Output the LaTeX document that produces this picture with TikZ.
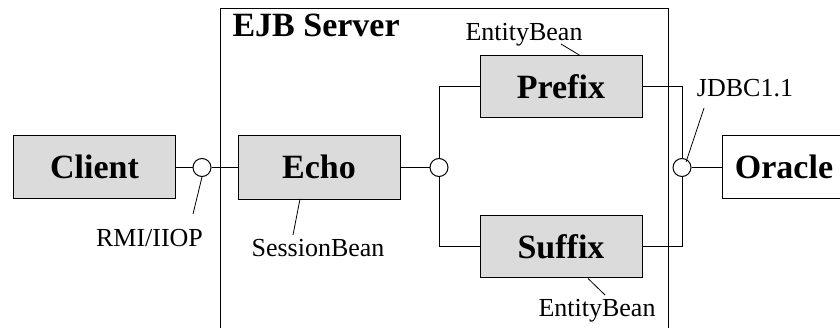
\documentclass[tikz,border=0pt]{standalone}
\usepackage{fontspec}
\setmainfont{Liberation Serif}
\begin{document}
\begin{tikzpicture}[x=1pt,y=-1pt,line width=1pt,
  comp/.style={draw, fill=black!14, minimum width=162pt, inner sep=0pt,
    font=\fontsize{34}{40}\selectfont\bfseries, text height=23pt, text depth=0pt},
  iface/.style={draw, fill=white, circle, minimum size=18pt, inner sep=0pt},
  lbl/.style={font=\fontsize{26}{30}\selectfont, inner sep=0pt, anchor=base},
  lead/.style={line width=0.8pt}]
\useasboundingbox (0,0) rectangle (840,328);
% server container
\draw (220,9) rectangle (668,340);
\node[anchor=base west, inner sep=0pt, font=\fontsize{34}{40}\selectfont\bfseries] (srv) at (232,37) {EJB Server};
% components
\node[comp, minimum height=63pt] (client) at (94.5,167.5) {Client};
\node[comp, minimum height=64pt] (echo) at (319,167.5) {Echo};
\node[comp, minimum height=62pt] (prefix) at (561,87) {Prefix};
\node[comp, minimum height=62pt] (suffix) at (561,247) {Suffix};
\node[comp, fill=white, minimum width=124pt, minimum height=63pt] (oracle) at (784,167.5) {Oracle};
% interfaces
\node[iface] (c1) at (202,167.5) {};
\node[iface] (c2) at (439,167.5) {};
\node[iface] (c3) at (682,167.5) {};
% connectors
\draw (client.east) -- (c1);
\draw (c1) -- (echo.west);
\draw (echo.east) -- (c2);
\draw (c2.north) |- (prefix.west);
\draw (c2.south) |- (suffix.west);
\draw (prefix.east) -| (c3.north);
\draw (suffix.east) -| (c3.south);
\draw (c3) -- (oracle.west);
% labels
\node[lbl] (eb1) at (524,41) {EntityBean};
\node[lbl] (eb2) at (597,317) {EntityBean};
\node[lbl] (jdbc) at (745,97) {JDBC1.1};
\node[lbl] (rmi) at (149.5,247) {RMI/IIOP};
\node[lbl] (sb) at (318,257) {SessionBean};
\coordinate (eb1a) at (561,44); \coordinate (eb1b) at (580,55.5);
\coordinate (eb2a) at (588,278.5); \coordinate (eb2b) at (605,295);
\coordinate (jda) at (704,108); \coordinate (jdb) at (686,162);
\coordinate (rma) at (202,177); \coordinate (rmb) at (193,214);
\coordinate (sba) at (300,199); \coordinate (sbb) at (293,235);
\draw[lead] (eb1a) -- (eb1b);
\draw[lead] (eb2a) -- (eb2b);
\draw[lead] (jda) -- (jdb);
\draw[lead] (rma) -- (rmb);
\draw[lead] (sba) -- (sbb);
\end{tikzpicture}
\end{document}
